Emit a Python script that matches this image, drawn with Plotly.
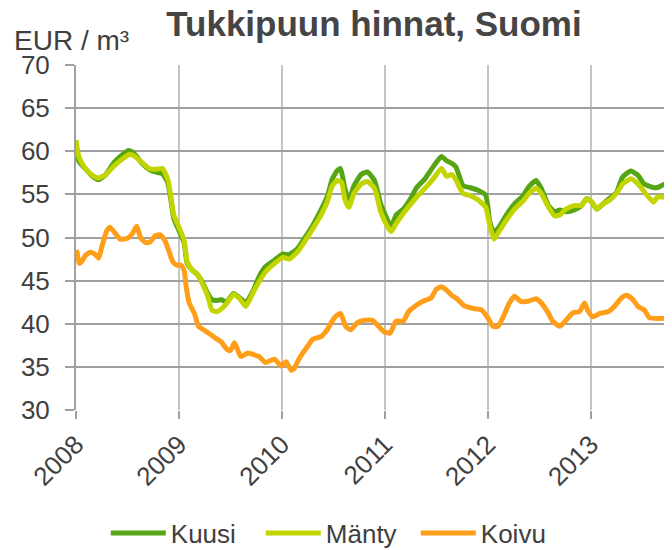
import plotly.graph_objects as go

# decimal years (offset from 2008) and prices, EUR / m3
kuusi_t = [0.00, 0.03, 0.09, 0.16, 0.22, 0.29, 0.37, 0.45, 0.51, 0.56, 0.64, 0.71, 0.77, 0.84, 0.89,
           0.92, 0.95, 1.00, 1.05, 1.08, 1.13, 1.18, 1.23, 1.28, 1.32, 1.37, 1.41, 1.46, 1.53, 1.59,
           1.65, 1.72, 1.78, 1.84, 1.93, 2.01, 2.07, 2.15, 2.23, 2.30, 2.38, 2.44, 2.49, 2.54, 2.57,
           2.61, 2.65, 2.70, 2.77, 2.83, 2.90, 2.96, 3.02, 3.06, 3.11, 3.18, 3.24, 3.31, 3.39, 3.47,
           3.55, 3.60, 3.65, 3.69, 3.76, 3.82, 3.90, 3.98, 4.02, 4.06, 4.11, 4.18, 4.26, 4.34, 4.40,
           4.47, 4.52, 4.59, 4.65, 4.70, 4.76, 4.84, 4.91, 4.96, 5.01, 5.06, 5.12, 5.18, 5.25, 5.31,
           5.39, 5.46, 5.52, 5.61, 5.65, 5.72, 5.78]
kuusi = [59.8, 58.8, 58.0, 57.1, 56.7, 57.3, 58.7, 59.6, 60.1, 59.8, 58.6, 57.9, 57.6, 57.4, 56.4,
         54.5, 52.2, 50.8, 49.4, 47.0, 46.2, 45.7, 44.8, 43.5, 42.8, 42.7, 42.8, 42.5, 43.5, 43.0,
         42.5, 43.8, 45.5, 46.6, 47.4, 48.1, 48.0, 48.7, 50.1, 51.4, 53.2, 54.7, 56.8, 57.8, 58.0,
         55.8, 54.3, 56.0, 57.3, 57.6, 56.6, 53.9, 52.2, 51.2, 52.6, 53.3, 54.3, 55.8, 56.8, 58.2,
         59.4, 58.9, 58.6, 58.2, 56.0, 55.8, 55.5, 54.9, 51.8, 50.6, 51.2, 52.6, 53.9, 54.8, 55.9,
         56.6, 55.7, 53.7, 53.0, 53.2, 53.0, 53.2, 53.7, 54.5, 54.1, 53.3, 53.9, 54.5, 55.2, 57.0,
         57.7, 57.2, 56.2, 55.8, 55.8, 56.2, 56.1]

manty_t = [0.00, 0.03, 0.09, 0.16, 0.22, 0.29, 0.37, 0.45, 0.51, 0.56, 0.64, 0.71, 0.77, 0.84, 0.89,
           0.92, 0.95, 1.00, 1.05, 1.08, 1.13, 1.18, 1.23, 1.28, 1.32, 1.37, 1.41, 1.46, 1.53, 1.59,
           1.65, 1.72, 1.78, 1.84, 1.93, 2.01, 2.07, 2.15, 2.23, 2.30, 2.38, 2.44, 2.49, 2.54, 2.58,
           2.61, 2.65, 2.70, 2.77, 2.83, 2.90, 2.96, 3.02, 3.06, 3.11, 3.18, 3.24, 3.31, 3.39, 3.47,
           3.55, 3.60, 3.65, 3.69, 3.76, 3.82, 3.90, 3.98, 4.02, 4.06, 4.11, 4.18, 4.26, 4.34, 4.40,
           4.47, 4.52, 4.59, 4.65, 4.70, 4.76, 4.84, 4.91, 4.96, 5.01, 5.06, 5.12, 5.18, 5.25, 5.31,
           5.39, 5.46, 5.52, 5.61, 5.65, 5.72, 5.78]
manty = [61.3, 59.3, 58.0, 57.2, 56.9, 57.3, 58.3, 59.1, 59.6, 59.5, 58.7, 58.0, 57.9, 58.0, 56.8,
         54.9, 52.6, 51.2, 49.7, 47.2, 46.2, 45.7, 44.6, 43.2, 41.6, 41.4, 41.7, 42.3, 43.4, 42.9,
         42.0, 43.6, 44.9, 46.0, 47.0, 47.7, 47.5, 48.3, 49.7, 51.0, 52.6, 54.1, 56.0, 56.6, 56.4,
         54.5, 53.5, 55.1, 56.2, 56.5, 55.7, 53.0, 51.4, 50.7, 51.6, 52.8, 53.7, 54.7, 55.7, 56.8,
         58.0, 57.1, 57.3, 56.7, 55.1, 54.9, 54.4, 53.5, 51.4, 49.8, 50.7, 52.0, 53.3, 54.2, 55.1,
         55.7, 55.1, 53.5, 52.5, 52.6, 53.3, 53.7, 53.7, 54.5, 54.1, 53.3, 53.9, 54.3, 55.1, 56.2,
         56.8, 56.2, 55.3, 54.1, 54.7, 54.7, 55.1]

koivu_t = [0.00, 0.01, 0.03, 0.06, 0.09, 0.14, 0.19, 0.22, 0.25, 0.30, 0.33, 0.38, 0.43, 0.50, 0.55,
           0.59, 0.63, 0.68, 0.72, 0.77, 0.82, 0.87, 0.90, 0.94, 0.98, 1.02, 1.05, 1.07, 1.10, 1.15,
           1.19, 1.24, 1.29, 1.36, 1.41, 1.47, 1.50, 1.54, 1.60, 1.67, 1.73, 1.78, 1.84, 1.93, 1.99,
           2.04, 2.09, 2.12, 2.14, 2.18, 2.25, 2.30, 2.38, 2.44, 2.51, 2.57, 2.62, 2.67, 2.73, 2.80,
           2.88, 2.94, 2.99, 3.05, 3.11, 3.18, 3.23, 3.29, 3.37, 3.45, 3.50, 3.55, 3.60, 3.65, 3.71,
           3.77, 3.85, 3.94, 4.00, 4.05, 4.10, 4.15, 4.21, 4.26, 4.32, 4.39, 4.47, 4.52, 4.59, 4.63,
           4.70, 4.76, 4.83, 4.89, 4.94, 4.97, 5.02, 5.09, 5.17, 5.23, 5.30, 5.35, 5.41, 5.46, 5.52,
           5.57, 5.65, 5.78]
koivu = [48.5, 48.3, 47.0, 47.3, 47.9, 48.3, 48.0, 47.6, 48.9, 50.8, 51.2, 50.5, 49.8, 49.9, 50.5,
         51.3, 49.9, 49.4, 49.5, 50.2, 50.3, 49.5, 48.5, 47.2, 46.8, 46.8, 46.2, 44.3, 42.4, 41.2,
         39.7, 39.3, 38.9, 38.3, 37.9, 37.0, 36.9, 37.8, 36.2, 36.6, 36.4, 36.2, 35.5, 35.9, 35.1,
         35.6, 34.6, 34.8, 35.3, 36.2, 37.4, 38.2, 38.5, 39.3, 40.7, 41.2, 39.7, 39.3, 40.1, 40.4,
         40.4, 39.7, 39.1, 38.9, 40.3, 40.3, 41.4, 42.0, 42.6, 43.0, 44.0, 44.3, 43.9, 43.3, 42.8,
         42.1, 41.8, 41.6, 40.7, 39.7, 39.7, 40.8, 42.4, 43.2, 42.6, 42.6, 42.9, 42.4, 41.2, 40.3,
         39.7, 40.4, 41.3, 41.4, 42.4, 41.6, 40.8, 41.2, 41.4, 42.0, 43.0, 43.3, 42.8, 42.0, 41.6,
         40.7, 40.6, 40.7]

years = [2008, 2009, 2010, 2011, 2012, 2013]

FONT = "Liberation Sans, Arial, sans-serif"
TXT = "#404040"

fig = go.Figure()
series = [
    ("Kuusi", kuusi_t, kuusi, "#56a514"),
    ("Mänty", manty_t, manty, "#c3d500"),
    ("Koivu", koivu_t, koivu, "#ff9e18"),
]
for name, t, v, col in series:
    fig.add_trace(go.Scatter(
        x=[2008 + a for a in t], y=v, name=name, mode="lines",
        line=dict(color=col, width=5, shape="spline", smoothing=0.5),
    ))

# page body has an 8px margin, so the figure is 8px smaller than the window
fig.update_layout(
    width=664, height=542,
    margin=dict(l=68, r=0, t=57, b=140, autoexpand=False),
    paper_bgcolor="white", plot_bgcolor="white",
    font=dict(family=FONT, size=26, color=TXT),
    title=dict(text="<b>Tukkipuun hinnat, Suomi</b>", xref="paper", x=0.5, xanchor="center",
               yref="container", y=1.0, yanchor="top", pad=dict(t=3, b=0), automargin=False,
               font=dict(family=FONT, size=35, color="#454545")),
    showlegend=True,
    legend=dict(orientation="h", x=0.05, xanchor="left", y=-0.357, yanchor="middle",
                font=dict(size=26, color=TXT), itemwidth=55, entrywidth=85,
                entrywidthmode="pixels", tracegroupgap=0),
    annotations=[dict(text="EUR / m³", xref="paper", yref="paper", x=-0.108, y=1.072,
                      xanchor="left", yanchor="middle", showarrow=False,
                      font=dict(size=28, color=TXT))],
)
fig.update_xaxes(
    range=[2008, 2013.79], tickvals=years, ticktext=[str(y) for y in years],
    tickangle=-45, showgrid=True, gridcolor="#c4c4c4", gridwidth=1.5,
    ticks="outside", ticklen=8, tickcolor="#a0a0a0", tickwidth=1.5,
    showline=False, zeroline=False, automargin=False, tickfont=dict(size=26, color=TXT),
)
fig.update_yaxes(
    range=[30, 70], dtick=5, showgrid=True, gridcolor="#a0a0a0", gridwidth=2,
    ticks="outside", ticklen=9, tickcolor="#a0a0a0", tickwidth=2, ticklabelstandoff=10,
    showline=True, linecolor="#a0a0a0", linewidth=2, zeroline=False, automargin=False,
    tickfont=dict(size=26, color=TXT),
)

fig.write_html("out.html")
